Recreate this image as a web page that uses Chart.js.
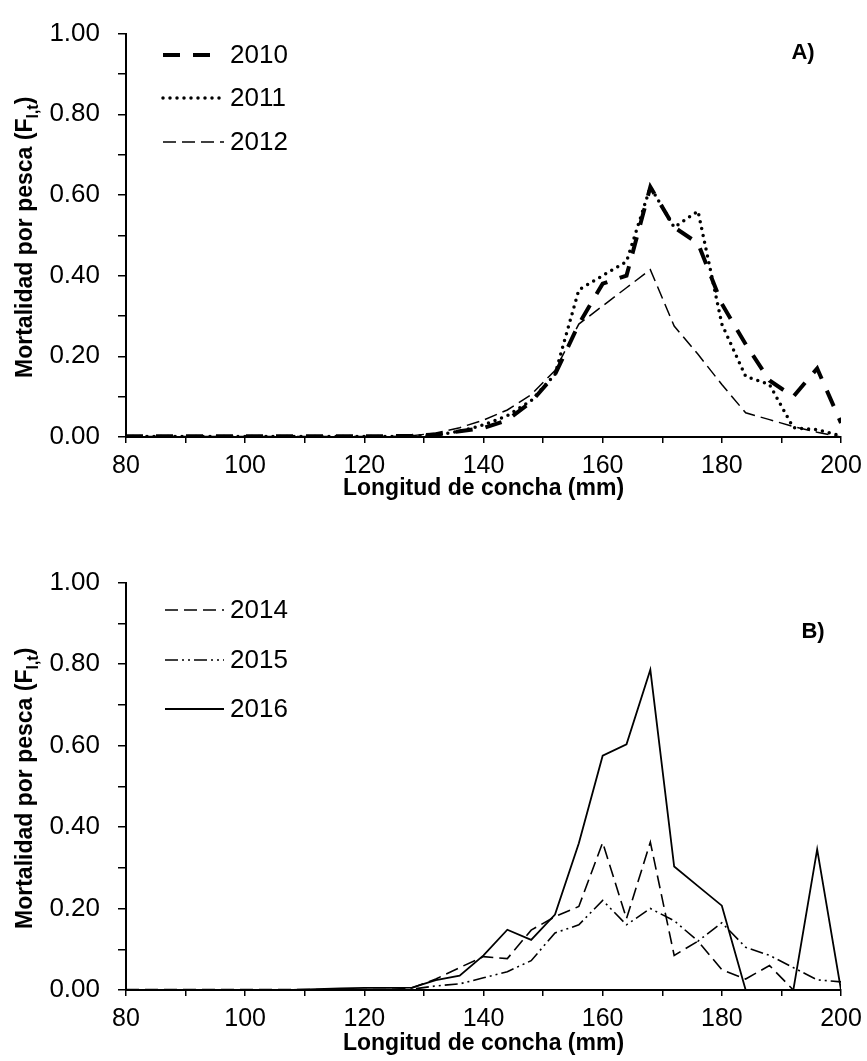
<!DOCTYPE html>
<html><head><meta charset="utf-8">
<script src="https://cdn.jsdelivr.net/npm/chart.js@4.4.0/dist/chart.umd.min.js"></script>
<style>
html,body{margin:0;padding:0;background:#fff;}
#wrap{position:relative;width:867px;height:1061px;overflow:hidden;background:#fff;}
canvas{position:absolute;left:0;}
</style></head><body>
<div id="wrap">
<canvas id="cA" width="867" height="506" style="top:0px"></canvas>
<canvas id="cB" width="867" height="512" style="top:549px"></canvas>
</div>
<script>
// ---- data ----
const lengths = [80,84,88,92,96,100,104,108,112,116,120,124,128,132,136,140,144,148,152,156,160,164,168,172,176,180,184,188,192,196,200];
const xTicks = [80,100,120,140,160,180,200];
const yTicks = [0.00,0.20,0.40,0.60,0.80,1.00];

const f2010 = [0.002,0.002,0.002,0.002,0.002,0.002,0.002,0.002,0.002,0.002,0.002,0.002,0.003,0.006,0.014,0.022,0.042,0.087,0.155,0.28,0.38,0.40,0.62,0.52,0.48,0.33,0.23,0.14,0.10,0.17,0.035];
const f2011 = [0.001,0.001,0.001,0.001,0.001,0.001,0.001,0.001,0.001,0.001,0.001,0.001,0.002,0.005,0.014,0.03,0.053,0.09,0.155,0.365,0.40,0.435,0.62,0.52,0.56,0.28,0.15,0.13,0.023,0.018,0.003];
const f2012 = [0.001,0.001,0.001,0.001,0.001,0.001,0.001,0.001,0.001,0.001,0.001,0.001,0.003,0.01,0.023,0.042,0.067,0.105,0.165,0.28,0.325,0.37,0.415,0.275,0.205,0.13,0.06,0.043,0.026,0.012,0.0];
const f2014 = [0.001,0.001,0.001,0.001,0.001,0.001,0.001,0.001,0.001,0.001,0.001,0.001,0.005,0.027,0.055,0.082,0.077,0.147,0.18,0.205,0.362,0.175,0.363,0.085,0.12,0.05,0.027,0.06,0.0,0.0,0.0];
const f2015 = [0,0,0,0,0,0,0,0,0,0,0,0,0.002,0.01,0.015,0.03,0.045,0.072,0.14,0.16,0.22,0.16,0.2,0.17,0.12,0.165,0.105,0.085,0.055,0.025,0.02];
const f2016 = [0,0,0,0,0,0,0,0,0.002,0.004,0.005,0.005,0.006,0.024,0.035,0.085,0.148,0.123,0.185,0.36,0.575,0.603,0.786,0.303,0.255,0.207,0,0,0,0.345,0];

const FONT = '"Liberation Sans", Arial, sans-serif';

function pts(vals){ return lengths.map((x,i)=>({x:x, y:vals[i]})); }

const decor = {
  id:'decor',
  afterDraw(chart, args, o){
    const ctx = chart.ctx, area = chart.chartArea;
    ctx.save();
    ctx.fillStyle = '#000';
    const cy = (area.top + area.bottom)/2 + 2;
    ctx.translate(o.yTitleX, cy);
    ctx.rotate(-Math.PI/2);
    ctx.textAlign = 'left'; ctx.textBaseline = 'alphabetic';
    const f1 = 'bold 23px ' + FONT, f2 = 'bold 16px ' + FONT;
    const t1 = 'Mortalidad por pesca (F', t2 = 'l,t', t3 = ')';
    ctx.font = f1; const w1 = ctx.measureText(t1).width, w3 = ctx.measureText(t3).width;
    ctx.font = f2; const w2 = ctx.measureText(t2).width;
    const x0 = -(w1 + w2 + w3)/2;
    ctx.font = f1; ctx.fillText(t1, x0, 0);
    ctx.font = f2; ctx.fillText(t2, x0 + w1, 6);
    ctx.font = f1; ctx.fillText(t3, x0 + w1 + w2, 0);
    ctx.restore();
    // panel label
    ctx.save();
    ctx.fillStyle = '#000';
    ctx.font = 'bold 22px ' + FONT;
    ctx.textAlign = 'center'; ctx.textBaseline = 'middle';
    ctx.fillText(o.panel, o.panelX, o.panelY);
    ctx.restore();
    // legend
    chart.data.datasets.forEach((ds, i) => {
      const y = o.legY[i];
      ctx.save();
      ctx.strokeStyle = '#000';
      ctx.lineWidth = ds.borderWidth;
      ctx.setLineDash(ds.borderDash || []);
      ctx.lineCap = ds.borderCapStyle || 'butt';
      ctx.beginPath(); ctx.moveTo(o.legX1, y); ctx.lineTo(o.legX2[i], y); ctx.stroke();
      ctx.restore();
      ctx.save();
      ctx.fillStyle = '#000';
      ctx.font = '26px ' + FONT;
      ctx.textAlign = 'left'; ctx.textBaseline = 'middle';
      ctx.fillText(ds.label, o.legTextX, y + 1);
      ctx.restore();
    });
  }
};

function makeChart(id, datasets, axisHeight, decorOpts){
  return new Chart(document.getElementById(id), {
    type:'line',
    data:{ datasets: datasets },
    options:{
      responsive:false, animation:false,
      layout:{ padding:{ left:0, right:26, top:26, bottom:0 } },
      elements:{ point:{ radius:0 }, line:{ tension:0, borderColor:'#000' } },
      plugins:{ legend:{ display:false }, tooltip:{ enabled:false }, decor: decorOpts },
      scales:{
        x:{
          type:'linear', min:80, max:200,
          border:{ display:true, color:'#000', width:2 },
          grid:{ display:true, drawOnChartArea:false, drawTicks:true, tickLength:6, color:'#000', lineWidth:1.5 },
          ticks:{ stepSize:10, autoSkip:false, maxRotation:0, padding:8, color:'#000',
                  font:{ family:FONT, size:25 },
                  callback:(v)=> xTicks.includes(v) ? String(v) : '' },
          title:{ display:true, text:'Longitud de concha (mm)', color:'#000',
                  font:{ family:FONT, size:23, weight:'bold' }, padding:{ top:0, bottom:4 } },
          afterFit:(s)=>{ s.height = axisHeight; s.paddingRight = 0; s.paddingLeft = 0; }
        },
        y:{
          min:0, max:1,
          border:{ display:true, color:'#000', width:2 },
          grid:{ display:true, drawOnChartArea:false, drawTicks:true, tickLength:8, color:'#000', lineWidth:1.5 },
          ticks:{ stepSize:0.1, autoSkip:false, padding:18, color:'#000',
                  font:{ family:FONT, size:26 },
                  callback:(v)=>{ const r = Math.round(v*100)/100; return yTicks.some(t=>Math.abs(t-r)<1e-6) ? r.toFixed(2) : ''; } },
          afterFit:(s)=>{ s.width = 126; }
        }
      }
    },
    plugins:[decor]
  });
}

makeChart('cA', [
  { label:'2010', data:pts(f2010), borderColor:'#000', borderWidth:4, borderDash:[17,13], borderCapStyle:'butt', fill:false },
  { label:'2011', data:pts(f2011), borderColor:'#000', borderWidth:3.5, borderDash:[0,7], borderCapStyle:'round', fill:false },
  { label:'2012', data:pts(f2012), borderColor:'#000', borderWidth:1.5, borderDash:[13,6], borderCapStyle:'butt', fill:false }
], 506-437, { yTitleX:32, panel:'A)', panelX:803, panelY:53, legY:[55,98,142], legX1:163, legX2:[212,221,224], legTextX:230 });

makeChart('cB', [
  { label:'2014', data:pts(f2014), borderColor:'#000', borderWidth:1.6, borderDash:[13,6], borderCapStyle:'butt', fill:false },
  { label:'2015', data:pts(f2015), borderColor:'#000', borderWidth:1.6, borderDash:[13,4,2,4,2,4], borderCapStyle:'butt', fill:false },
  { label:'2016', data:pts(f2016), borderColor:'#000', borderWidth:1.8, borderDash:[], borderCapStyle:'butt', fill:false }
], 512-441, { yTitleX:32, panel:'B)', panelX:813, panelY:83, legY:[61,111,160], legX1:165, legX2:[224,224,224], legTextX:230 });
</script>
</body></html>
